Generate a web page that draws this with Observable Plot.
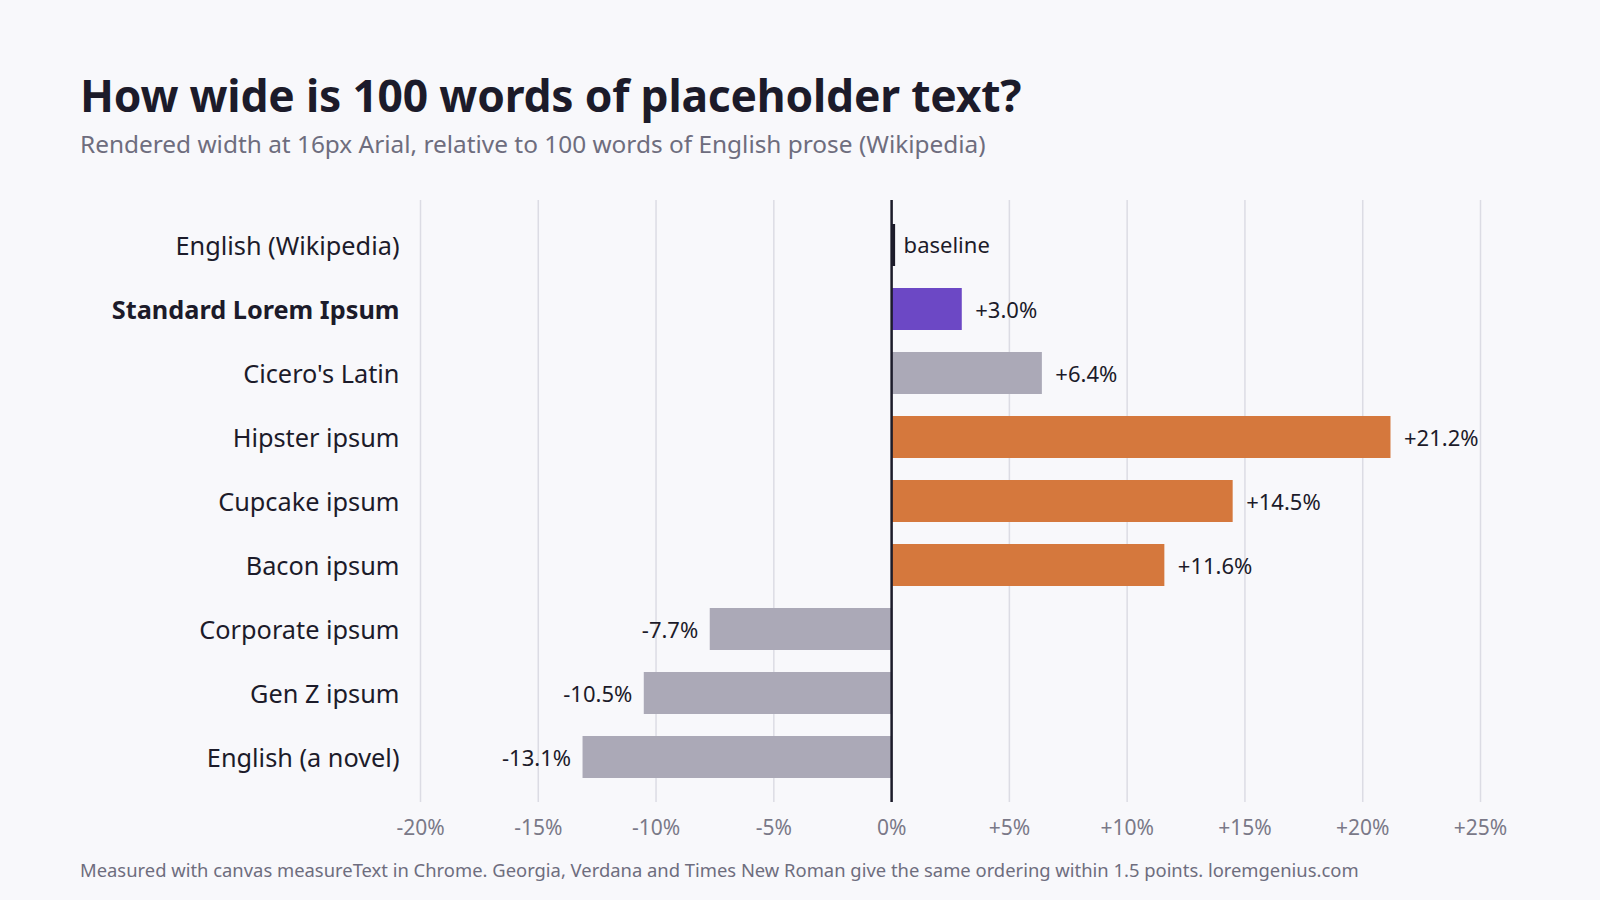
<!DOCTYPE html>
<html>
<head>
<meta charset="utf-8">
<script src="https://cdn.jsdelivr.net/npm/d3@7"></script>
<script src="https://cdn.jsdelivr.net/npm/@observablehq/plot@0.6"></script>
<style>
  html, body { margin: 0; padding: 0; background: #f8f8fb; }
  body { width: 1600px; height: 900px; position: relative; overflow: hidden; font-family: "Noto Sans", sans-serif; }
  #title { position: absolute; left: 80px; top: 65px; font-size: 44.4px; font-weight: 700; color: #1c1b2a; letter-spacing: -0.2px; white-space: nowrap; }
  #subtitle { position: absolute; left: 80px; top: 127px; font-size: 24.4px; color: #6e6d7e; white-space: nowrap; }
  #footer { position: absolute; left: 80px; top: 857px; font-size: 18.4px; color: #6e6d7e; white-space: nowrap; }
  #chart { position: absolute; left: 0; top: 0; }
</style>
</head>
<body>
<div id="chart"></div>
<div id="title">How wide is 100 words of placeholder text?</div>
<div id="subtitle">Rendered width at 16px Arial, relative to 100 words of English prose (Wikipedia)</div>
<div id="footer">Measured with canvas measureText in Chrome. Georgia, Verdana and Times New Roman give the same ordering within 1.5 points. loremgenius.com</div>
<script>
const names = ["English (Wikipedia)", "Standard Lorem Ipsum", "Cicero's Latin", "Hipster ipsum", "Cupcake ipsum", "Bacon ipsum", "Corporate ipsum", "Gen Z ipsum", "English (a novel)"];
const values = [0, 3.0, 6.4, 21.2, 14.5, 11.6, -7.7, -10.5, -13.1];
const groups = ["baseline", "standard", "other", "fun", "fun", "fun", "other", "other", "other"];
const xTicks = [-20, -15, -10, -5, 0, 5, 10, 15, 20, 25];
const groupNames = ["baseline", "standard", "other", "fun"];
const groupColors = ["#1c1b2a", "#6c48c5", "#aba9b7", "#d5783d"];

const data = names.map((name, i) => ({name, value: values[i], group: groups[i]}));
const bars = data.filter(d => d.group !== "baseline");
const base = data.filter(d => d.group === "baseline");
const fmt = v => (v > 0 ? "+" : "") + v.toFixed(1) + "%";
const tickFmt = v => (v > 0 ? "+" : "") + v + "%";
const ink = "#1c1b2a";

const chart = Plot.plot({
  width: 1600,
  height: 900,
  marginLeft: 420,
  marginRight: 120,
  marginTop: 200,
  marginBottom: 98,
  style: {background: "transparent", fontFamily: "'Noto Sans', sans-serif"},
  x: {domain: [-20, 25], axis: null},
  y: {domain: names, padding: 0.35, axis: null},
  color: {domain: groupNames, range: groupColors},
  marks: [
    Plot.gridX(xTicks, {stroke: "#dcdce4", strokeOpacity: 1, strokeWidth: 1.5}),
    Plot.axisX(xTicks, {tickSize: 0, tickPadding: 18, tickFormat: tickFmt, fontSize: 21, fill: "#7a7988", label: null}),
    Plot.barX(bars, {x: "value", y: "name", fill: "group"}),
    Plot.tickX(base, {x: "value", y: "name", stroke: "group", strokeWidth: 3, dx: 2}),
    Plot.ruleX([0], {stroke: ink, strokeWidth: 2.5}),
    Plot.text(bars.filter(d => d.value > 0), {x: "value", y: "name", text: d => fmt(d.value), textAnchor: "start", dx: 13, dy: 1, fontSize: 22, fill: ink}),
    Plot.text(bars.filter(d => d.value < 0), {x: "value", y: "name", text: d => fmt(d.value), textAnchor: "end", dx: -12, dy: 1, fontSize: 22, fill: ink}),
    Plot.text(base, {x: "value", y: "name", text: () => "baseline", textAnchor: "start", dx: 12, dy: 0, fontSize: 22, fill: ink}),
    Plot.text(data.filter(d => d.group !== "standard"), {y: "name", text: "name", frameAnchor: "left", textAnchor: "end", dx: -21, dy: 1, fontSize: 25.3, fill: ink}),
    Plot.text(data.filter(d => d.group === "standard"), {y: "name", text: "name", frameAnchor: "left", textAnchor: "end", dx: -21, dy: 1, fontSize: 25.3, fontWeight: 700, fill: ink})
  ]
});
document.getElementById("chart").appendChild(chart);
</script>
</body>
</html>
